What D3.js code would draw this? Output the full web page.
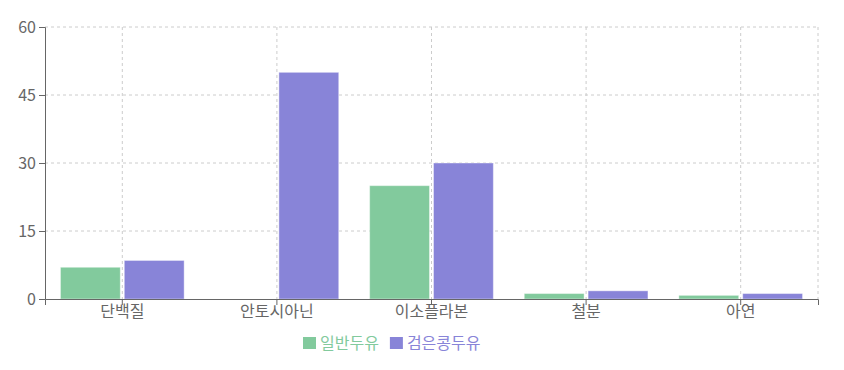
<!DOCTYPE html>
<html>
<head>
<meta charset="utf-8">
<script src="https://cdn.jsdelivr.net/npm/d3@7"></script>
<style>
  body { margin: 0; background: #fff; font-family: "Noto Sans CJK KR", "Noto Sans", sans-serif; }
</style>
</head>
<body>
<script>
var categories = ['단백질', '안토시아닌', '이소플라본', '철분', '아연'];
var seriesNames = ['일반두유', '검은콩두유'];
var regular = [7, 0, 25, 1.2, 0.8];
var blackBean = [8.5, 50, 30, 1.8, 1.2];
var yTicks = [0, 15, 30, 45, 60];
var colors = ['#82ca9d', '#8884d8'];

var width = 844;
var height = 370;
var margin = { left: 45, right: 26, top: 27, bottom: 71 };
var innerW = width - margin.left - margin.right;
var innerH = height - margin.top - margin.bottom;

var svg = d3.select('body').append('svg').attr('width', width).attr('height', height);
var chartGroup = svg.append('g')
    .attr('transform', 'translate(' + margin.left + ',' + margin.top + ')');

var x = d3.scaleBand().domain(categories).range([0, innerW]).paddingInner(0).paddingOuter(0);
var y = d3.scaleLinear().domain([0, 60]).range([innerH, 0]);

// grid
var grid = chartGroup.append('g').attr('stroke', '#ccc').attr('stroke-dasharray', '3 3');
grid.selectAll('.h').data(yTicks.slice(1)).enter().append('line')
    .attr('x1', 0).attr('x2', innerW)
    .attr('y1', function(d) { return y(d); }).attr('y2', function(d) { return y(d); });
var vlines = categories.map(function(c) { return x(c) + x.bandwidth() / 2; }).concat([innerW]);
grid.selectAll('.v').data(vlines).enter().append('line')
    .attr('x1', function(d) { return d; }).attr('x2', function(d) { return d; })
    .attr('y1', 0).attr('y2', innerH);

// bars
var gap = x.bandwidth() * 0.1;
var barGap = 4;
var barW = (x.bandwidth() - 2 * gap - barGap) / 2;
var table = categories.map(function(c, i) { return { cat: c, vals: [regular[i], blackBean[i]] }; });

[0, 1].forEach(function(s) {
    chartGroup.append('g').selectAll('rect').data(table).enter().append('rect')
        .attr('x', function(d) { return x(d.cat) + gap + s * (barW + barGap); })
        .attr('y', function(d) { return y(d.vals[s]); })
        .attr('width', barW)
        .attr('height', function(d) { return innerH - y(d.vals[s]); })
        .attr('fill', colors[s])
        .attr('stroke', '#fff')
        .attr('stroke-opacity', 0.4);
});

// axes
var yAxis = d3.axisLeft(y).tickValues(yTicks).tickSize(6).tickPadding(3);
var gy = chartGroup.append('g').call(yAxis);
var xAxis = d3.axisBottom(x).tickSize(6).tickPadding(1);
var gx = chartGroup.append('g').attr('transform', 'translate(0,' + innerH + ')').call(xAxis);
[gx, gy].forEach(function(g) {
    g.select('.domain').attr('stroke', '#666');
    g.selectAll('.tick line').attr('stroke', '#666');
    g.selectAll('.tick text').attr('fill', '#666').style('font-size', '16px')
        .style('font-family', '"Noto Sans CJK KR", sans-serif');
});

// legend
var legend = svg.append('g').attr('transform', 'translate(0,343)');
var items = legend.selectAll('g').data(seriesNames).enter().append('g');
items.append('rect').attr('width', 13).attr('height', 12).attr('y', -6)
    .attr('fill', function(d, i) { return colors[i]; });
items.append('text').attr('x', 17).attr('dy', '0.35em')
    .attr('fill', function(d, i) { return colors[i]; })
    .style('font-size', '16px')
    .text(function(d) { return d; });
var offs = 0, positions = [];
items.each(function() {
    positions.push(offs);
    offs += this.getBBox().width + 11;
});
var start = 303;
items.attr('transform', function(d, i) { return 'translate(' + (start + positions[i]) + ',0)'; });
</script>
</body>
</html>
